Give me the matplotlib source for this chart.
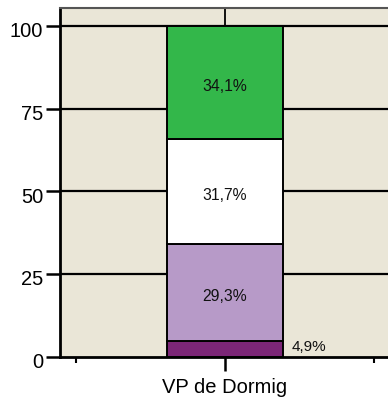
import matplotlib
matplotlib.use("Agg")
import matplotlib.pyplot as plt
from matplotlib.transforms import ScaledTranslation

plt.rcParams['font.family'] = ['Liberation Sans', 'DejaVu Sans']

category = "VP de Dormig"
segment_values = [4.9, 29.3, 31.7, 34.1]
segment_labels = ["4,9%", "29,3%", "31,7%", "34,1%"]
segment_colors = ["#7B2677", "#B79AC8", "#FFFFFF", "#33B74A"]
y_ticks = [0, 25, 50, 75, 100]

fig = plt.figure(figsize=(3.88, 4.01), dpi=100)
W, H = 388, 401
ax = fig.add_axes([60 / W, 44 / H, 330 / W, 349 / H])
ax.set_facecolor("#EAE6D7")

ax.set_xlim(-1.11, 1.11)
ax.set_ylim(0, 105.4)

# grid
for y in y_ticks[1:]:
    ax.axhline(y, color="black", lw=1.6, zorder=1)
ax.axvline(0, color="black", lw=1.3, zorder=1)

# stacked bar
bottom = 0
for val, lab, col in zip(segment_values, segment_labels, segment_colors):
    ax.bar(0, val, width=0.78, bottom=bottom, color=col, edgecolor="black",
           linewidth=1.4, zorder=3)
    mid = bottom + val / 2
    if val < 10:
        ax.annotate(lab, (0.39, mid), xytext=(6, 1), textcoords="offset points",
                    ha="left", va="center", fontsize=11, color="#111111", zorder=4)
    else:
        ax.annotate(lab, (0, mid), xytext=(0, -3), textcoords="offset points",
                    ha="center", va="center", fontsize=11.3, color="#111111", zorder=4)
    bottom += val

# spines
for s in ["left", "bottom"]:
    ax.spines[s].set_linewidth(2.0)
    ax.spines[s].set_color("black")
ax.spines["top"].set_linewidth(1.5)
ax.spines["top"].set_color("#555555")
ax.spines["right"].set_visible(False)

ax.set_yticks(y_ticks)
ax.set_yticklabels([str(v) for v in y_ticks])
ax.tick_params(axis="y", length=10, width=1.8, pad=2, labelsize=14.5)
ax.set_xticks([0])
ax.set_xticklabels([category])
ax.set_xticks([-1, 1], minor=True)
ax.tick_params(axis="x", which="major", length=10, width=1.8, pad=5, labelsize=14.5)
ax.tick_params(axis="x", which="minor", length=4, width=1.5)

off = ScaledTranslation(0, -3.7 / 100, fig.dpi_scale_trans)
for lbl in ax.get_yticklabels():
    lbl.set_transform(lbl.get_transform() + off)

fig.savefig("out.png", dpi=100)
